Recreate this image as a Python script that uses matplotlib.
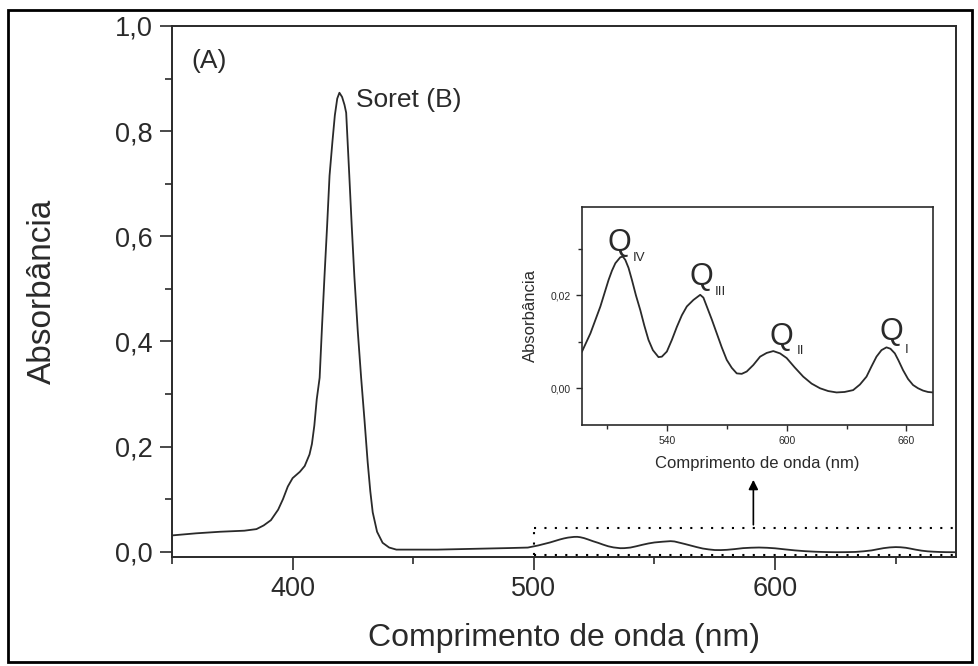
import matplotlib
matplotlib.use("Agg")
import matplotlib.pyplot as plt
from matplotlib.ticker import MultipleLocator, FuncFormatter
from matplotlib.patches import Rectangle

plt.rcParams['font.family'] = ['Liberation Sans', 'DejaVu Sans']

# full spectrum (nm, absorbance)
wavelength = [350, 360, 370, 380, 385, 388, 391, 394, 396, 398, 400, 403, 405, 407,
              408, 409, 410, 411.2, 412.2, 413.2, 414.3, 415.3, 416.5, 417.5, 418.5,
              419.4, 420.5, 421.5, 422.2, 423.5, 424.5, 425.6, 427, 428.4, 429.8,
              431.1, 432.2, 433.2, 435, 437.3, 440, 443, 450, 460, 470, 480, 490]
absorb = [0.031, 0.035, 0.038, 0.040, 0.043, 0.050, 0.060, 0.080, 0.100, 0.124, 0.140,
          0.152, 0.163, 0.185, 0.205, 0.240, 0.290, 0.331, 0.430, 0.523, 0.620, 0.715,
          0.780, 0.830, 0.862, 0.873, 0.865, 0.850, 0.835, 0.715, 0.620, 0.523, 0.420,
          0.331, 0.250, 0.171, 0.115, 0.075, 0.038, 0.017, 0.008, 0.004, 0.004, 0.004,
          0.005, 0.006, 0.007]

# Q band region (also the inset)
q_wl = [497.5, 501.7, 506.7, 510.8, 512.5, 514.2, 516.7, 518, 519.2, 520.8, 522.5,
        524.5, 526.7, 528.7, 530.8, 533, 535.8, 537.5, 540, 542.5, 545, 547.5, 550,
        553.3, 556.7, 558.3, 560, 562.5, 565, 567.5, 570, 572.5, 575, 577.5, 580,
        583.3, 586.7, 590, 593.3, 596.7, 600, 604, 608.3, 612.5, 616.7, 620.8, 625,
        629, 633.3, 636.7, 640, 642.5, 645, 647.5, 650, 652, 654.2, 656, 658.3,
        660.8, 663.3, 665.8, 668.3, 670.8, 673.3, 675]
q_abs = [0.0079, 0.0118, 0.0176, 0.0233, 0.0253, 0.0269, 0.0282, 0.0283, 0.0276,
         0.0259, 0.0233, 0.0200, 0.0168, 0.0135, 0.0104, 0.0082, 0.0067, 0.0068,
         0.0079, 0.0104, 0.0132, 0.0157, 0.0176, 0.0190, 0.0201, 0.0195, 0.0176,
         0.0148, 0.0118, 0.0088, 0.0061, 0.0044, 0.0032, 0.0031, 0.0036, 0.0050,
         0.0068, 0.0076, 0.0080, 0.0075, 0.0065, 0.0045, 0.0025, 0.0010, 0.0000,
         -0.0006, -0.0009, -0.0008, -0.0004, 0.0008, 0.0025, 0.0047, 0.0068, 0.0082,
         0.0088, 0.0085, 0.0075, 0.0060, 0.0039, 0.0020, 0.0007, 0.0000, -0.0005,
         -0.0008, -0.0009, -0.0010]

q_names = ['IV', 'III', 'II', 'I']
q_pos = [(510.5, 0.0295), (551.5, 0.0222), (591.5, 0.0093), (646.5, 0.0103)]
q_sub = [(523, 0.0273), (564, 0.0200), (605, 0.0073), (659, 0.0075)]

col = '#2a2a2a'
comma = FuncFormatter(lambda v, p: ('%.1f' % v).replace('.', ','))
comma2 = FuncFormatter(lambda v, p: ('%.2f' % v).replace('.', ','))

fig = plt.figure(figsize=(9.79, 6.66), dpi=100)
fig.patches.append(Rectangle((0.008, 0.006), 0.985, 0.979, transform=fig.transFigure,
                             fill=False, lw=2, ec='black'))

ax = fig.add_axes([0.1757, 0.1637, 0.8008, 0.7973])
ax.plot(wavelength + q_wl, absorb + q_abs, color=col, lw=1.3)
ax.set_xlim(350, 675)
ax.set_ylim(-0.01, 1.0)
ax.xaxis.set_major_locator(MultipleLocator(100))
ax.xaxis.set_minor_locator(MultipleLocator(50))
ax.yaxis.set_major_locator(MultipleLocator(0.2))
ax.yaxis.set_minor_locator(MultipleLocator(0.1))
ax.yaxis.set_major_formatter(comma)
ax.tick_params(which='both', direction='out', labelsize=19.5, colors=col, width=1.2)
ax.tick_params(which='major', length=9, pad=5)
ax.tick_params(which='minor', length=5)
for s in ax.spines.values():
    s.set_linewidth(1.4)
    s.set_color(col)
ax.set_xlabel('Comprimento de onda (nm)', fontsize=23, color=col, labelpad=15)
ax.set_ylabel('Absorbância', fontsize=24, color=col)
ax.yaxis.set_label_coords(-0.145, 0.5)

ax.text(358, 0.933, '(A)', fontsize=19, color=col, va='center')
ax.text(426.4, 0.86, 'Soret (B)', fontsize=19, color=col, va='center')

# dotted box around the Q band region
ax.plot([500, 675], [0.046, 0.046], color='k', lw=1.5, ls=(0, (1, 4)))
ax.plot([500, 675], [-0.006, -0.006], color='k', lw=1.5, ls=(0, (1, 4)))
ax.plot([500, 500], [-0.006, 0.046], color='k', lw=1.5, ls=(0, (1, 4)))
ax.annotate('', xy=(591, 0.142), xytext=(591, 0.046),
            arrowprops=dict(arrowstyle='-|>', color='k', lw=1.2, mutation_scale=14))

# inset
ins = fig.add_axes([0.5945, 0.3619, 0.3585, 0.3273])
ins.plot(q_wl, q_abs, color=col, lw=1.3)
ins.set_xlim(497.5, 673.3)
ins.set_ylim(-0.0079, 0.039)
ins.xaxis.set_major_locator(MultipleLocator(60))
ins.xaxis.set_minor_locator(MultipleLocator(30))
ins.yaxis.set_major_locator(MultipleLocator(0.02))
ins.yaxis.set_minor_locator(MultipleLocator(0.01))
ins.yaxis.set_major_formatter(comma2)
ins.tick_params(which='both', direction='out', labelsize=7.5, colors=col, width=1)
ins.tick_params(which='major', length=4, pad=4)
ins.tick_params(which='minor', length=3)
for s in ins.spines.values():
    s.set_linewidth(1.2)
    s.set_color(col)
ins.set_xlabel('Comprimento de onda (nm)', fontsize=12, color=col, labelpad=7)
ins.set_ylabel('Absorbância', fontsize=12, color=col, labelpad=9)

for name, (qx, qy), (sx, sy) in zip(q_names, q_pos, q_sub):
    ins.text(qx, qy, 'Q', fontsize=22, color=col, va='baseline')
    ins.text(sx, sy, name, fontsize=9.5, color=col, va='baseline')

fig.savefig('out.png', dpi=100)
